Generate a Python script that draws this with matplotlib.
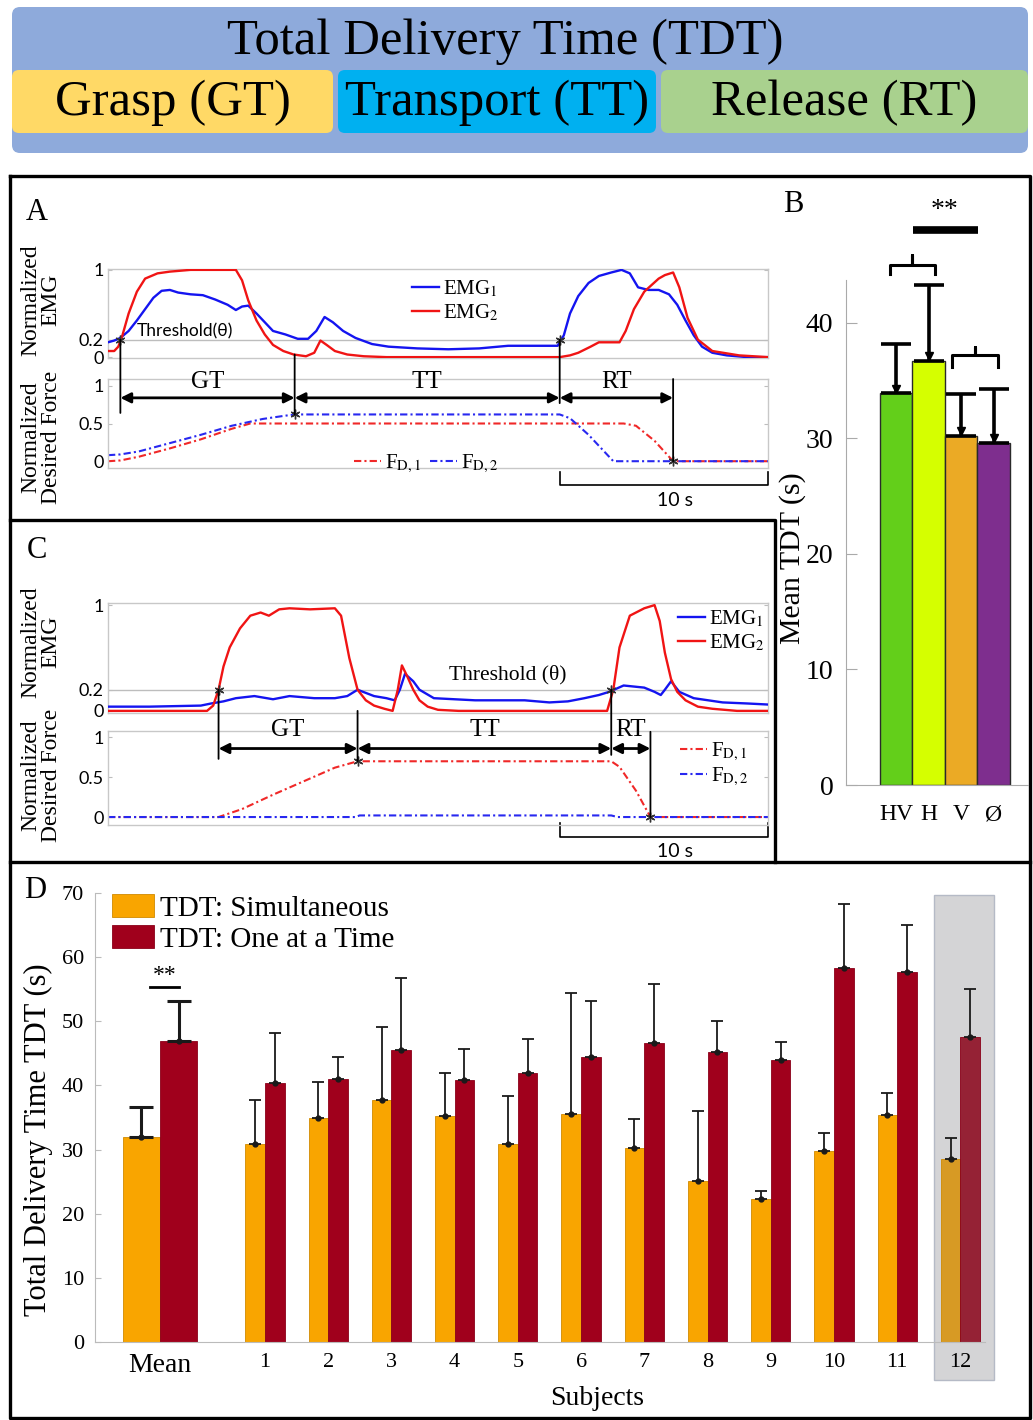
import numpy as np
import matplotlib.pyplot as plt
from matplotlib.patches import FancyBboxPatch, Rectangle, ConnectionPatch

plt.rcParams['font.family'] = ['Liberation Serif', 'DejaVu Serif']
plt.rcParams['mathtext.fontset'] = 'stix'
SANS = 'Lato'

W, H = 1033, 1420

# ---------------- data ----------------
# Panel A: simultaneous control (time in s)
a_emg1_t = [0, 0.3, 0.6, 1.0, 1.4, 1.8, 2.2, 2.6, 3.0, 3.4, 4.0, 4.6, 5.2, 5.8, 6.2, 6.5, 6.8, 7.2, 7.6,
            8.0, 8.6, 9.2, 9.7, 10.1, 10.5, 10.9, 11.4, 12.0, 12.8, 13.6, 15.0, 16.5, 18.0, 19.4, 21.0,
            21.8, 22.1, 22.4, 22.8, 23.3, 23.8, 24.4, 24.9, 25.3, 25.7, 26.2, 26.7, 27.2, 27.6, 28.0,
            28.4, 28.8, 29.3, 30.0, 31.0, 32.0]
a_emg1_v = [0.17, 0.19, 0.22, 0.30, 0.42, 0.55, 0.68, 0.76, 0.77, 0.74, 0.72, 0.71, 0.66, 0.60, 0.54,
            0.58, 0.59, 0.50, 0.40, 0.30, 0.26, 0.21, 0.21, 0.30, 0.46, 0.40, 0.30, 0.22, 0.15, 0.12,
            0.10, 0.09, 0.10, 0.13, 0.13, 0.13, 0.25, 0.50, 0.70, 0.85, 0.93, 0.97, 1.00, 0.96, 0.80,
            0.77, 0.77, 0.72, 0.60, 0.42, 0.25, 0.12, 0.05, 0.02, 0.0, 0.0]
a_emg2_t = [0, 0.3, 0.5, 0.7, 1.0, 1.4, 1.8, 2.4, 3.0, 4.0, 5.0, 6.2, 6.5, 6.8, 7.2, 7.6, 8.0, 8.5, 9.0,
            9.6, 10.0, 10.3, 10.6, 11.0, 11.6, 12.4, 13.5, 16.0, 19.0, 21.9, 22.4, 22.8, 23.4, 23.8,
            24.8, 25.1, 25.5, 26.0, 26.7, 27.0, 27.4, 27.7, 28.1, 28.6, 29.3, 30.6, 32.0]
a_emg2_v = [0.07, 0.07, 0.12, 0.25, 0.50, 0.75, 0.90, 0.96, 0.98, 1.00, 1.00, 1.00, 0.88, 0.65, 0.42,
            0.26, 0.14, 0.07, 0.03, 0.01, 0.05, 0.19, 0.14, 0.07, 0.03, 0.01, 0.0, 0.0, 0.0, 0.0, 0.02,
            0.05, 0.12, 0.17, 0.17, 0.30, 0.55, 0.75, 0.90, 0.94, 0.97, 0.80, 0.45, 0.20, 0.07, 0.02, 0.0]
a_fd1_t = [0, 0.6, 1.5, 3.0, 4.5, 6.0, 6.9, 25.0, 25.6, 26.5, 27.4, 32.0]
a_fd1_v = [0, 0.01, 0.06, 0.17, 0.29, 0.43, 0.50, 0.50, 0.47, 0.27, 0.0, 0.0]
a_fd2_t = [0, 0.6, 1.5, 3.0, 4.5, 6.0, 7.5, 8.5, 9.05, 21.9, 22.4, 23.3, 24.5, 32.0]
a_fd2_v = [0.08, 0.09, 0.13, 0.24, 0.35, 0.47, 0.56, 0.60, 0.62, 0.62, 0.57, 0.35, 0.0, 0.0]
a_events = [0.6, 9.05, 21.9, 27.4]

# Panel C: one at a time
c_emg1_t = [0, 2.0, 4.5, 5.0, 5.6, 6.2, 7.1, 8.0, 8.8, 10.0, 11.0, 11.6, 12.1, 12.5, 12.9, 13.5, 13.9,
            14.15, 14.4, 14.8, 15.1, 15.8, 17.8, 20.2, 21.4, 22.3, 23.1, 23.8, 24.3, 25.0, 26.0, 26.5,
            26.8, 27.0, 27.3, 27.7, 28.4, 29.8, 31.0, 32.0]
c_emg1_v = [0.04, 0.04, 0.05, 0.07, 0.09, 0.12, 0.14, 0.11, 0.14, 0.12, 0.12, 0.14, 0.20, 0.17, 0.14,
            0.12, 0.10, 0.20, 0.35, 0.28, 0.20, 0.12, 0.10, 0.10, 0.08, 0.09, 0.12, 0.15, 0.18, 0.24,
            0.22, 0.18, 0.15, 0.20, 0.28, 0.18, 0.12, 0.08, 0.07, 0.06]
c_emg2_t = [0, 4.8, 5.1, 5.36, 5.6, 5.9, 6.4, 6.9, 7.4, 7.8, 8.3, 8.8, 9.8, 11.0, 11.3, 11.5, 11.7,
            12.1, 12.5, 12.9, 13.4, 13.8, 14.05, 14.25, 14.5, 14.8, 15.1, 15.5, 16.0, 17.0, 24.2, 24.5,
            24.8, 25.3, 26.0, 26.5, 26.75, 27.0, 27.3, 27.6, 28.0, 28.6, 29.3, 30.5, 32.0]
c_emg2_v = [0.0, 0.0, 0.05, 0.20, 0.42, 0.60, 0.78, 0.90, 0.93, 0.90, 0.96, 0.97, 0.96, 0.97, 0.90,
            0.70, 0.50, 0.20, 0.10, 0.05, 0.02, 0.0, 0.20, 0.43, 0.33, 0.20, 0.10, 0.04, 0.01, 0.0,
            0.0, 0.20, 0.60, 0.90, 0.97, 1.00, 0.85, 0.55, 0.30, 0.18, 0.10, 0.04, 0.02, 0.0, 0.0]
c_fd1_t = [0, 5.36, 6.5, 8.0, 9.5, 11.0, 12.1, 24.4, 24.8, 25.6, 26.3, 32.0]
c_fd1_v = [0, 0.0, 0.10, 0.28, 0.45, 0.62, 0.70, 0.70, 0.63, 0.33, 0.0, 0.0]
c_fd2_t = [0, 12.0, 12.2, 24.4, 24.7, 32.0]
c_fd2_v = [0, 0.0, 0.02, 0.02, 0.0, 0.0]
c_events = [5.36, 12.1, 24.4, 26.3]

phase_names = ['GT', 'TT', 'RT']

# Panel B: mean TDT per feedback condition
b_labels = ['HV', 'H', 'V', 'Ø']
b_mean = [33.9, 36.7, 30.2, 29.6]
b_upper = [38.2, 43.3, 33.8, 34.3]
b_colors = ['#63CF1A', '#D5FF00', '#EBAA25', '#7E2E8E']

# Panel D: TDT per subject
d_labels = ['Mean', '1', '2', '3', '4', '5', '6', '7', '8', '9', '10', '11', '12']
d_sim = [31.9, 30.9, 34.9, 37.8, 35.2, 30.9, 35.5, 30.3, 25.1, 22.3, 29.7, 35.4, 28.5]
d_sim_up = [36.7, 37.7, 40.5, 49.1, 41.9, 38.3, 54.4, 34.7, 36.0, 23.6, 32.6, 38.8, 31.8]
d_one = [47.0, 40.4, 41.0, 45.6, 40.9, 42.0, 44.5, 46.6, 45.2, 43.9, 58.3, 57.7, 47.6]
d_one_up = [53.1, 48.1, 44.4, 56.8, 45.7, 47.2, 53.1, 55.8, 50.1, 46.8, 68.3, 65.0, 55.1]


def px_rect(l, t, r, b):
    return [l / W, 1 - b / H, (r - l) / W, (b - t) / H]


fig = plt.figure(figsize=(W / 100, H / 100), dpi=100)

# canvas in pixel coordinates for banner, borders and panel letters
cv = fig.add_axes([0, 0, 1, 1])
cv.set_xlim(0, W)
cv.set_ylim(H, 0)
cv.axis('off')

cv.add_patch(FancyBboxPatch((12, 7), 1016, 146, boxstyle='round,pad=0,rounding_size=8',
                            fc='#8EAADB', ec='none'))
for (x0, w, c, name) in [(12, 321, '#FFD966', 'Grasp (GT)'), (338, 318, '#00B0F0', 'Transport (TT)'),
                         (661, 367, '#A9D18E', 'Release (RT)')]:
    cv.add_patch(FancyBboxPatch((x0, 70), w, 63, boxstyle='round,pad=0,rounding_size=7',
                                fc=c, ec='none'))
    cv.text(x0 + w / 2, 103, name, ha='center', va='center', fontsize=36.5)
cv.text(505, 42, 'Total Delivery Time (TDT)', ha='center', va='center', fontsize=36.5)

# panel borders
cv.plot([10, 1030, 1030, 10, 10], [176, 176, 1418, 1418, 176], color='k', lw=2.4)
cv.plot([10, 775, 775], [520, 520, 862], color='k', lw=2.4)
cv.plot([10, 1030], [862, 862], color='k', lw=2.4)
for (x, y, s) in [(37, 213, 'A'), (793, 205, 'B'), (37, 550, 'C'), (35, 890, 'D')]:
    cv.text(x, y, s, ha='center', va='center', fontsize=22)

for (y, s) in [(300, 'Normalized\nEMG'), (437, 'Normalized\nDesired Force'),
               (642, 'Normalized\nEMG'), (775, 'Normalized\nDesired Force')]:
    cv.text(41, y, s, rotation=90, ha='center', va='center', fontsize=17, linespacing=0.95)


def style_trace(ax, ylim, ticks, labels):
    ax.set_xlim(0, 32)
    ax.set_ylim(*ylim)
    ax.set_facecolor('none')
    ax.set_xticks([])
    ax.set_yticks(ticks)
    ax.set_yticklabels(labels)
    for s in ax.spines.values():
        s.set_color('#C8C8C8')
        s.set_linewidth(1.0)
    ax.tick_params(axis='y', direction='in', length=3, color='#BDBDBD', right=True,
                   labelsize=13, pad=3, labelfontfamily=SANS)


def trace_panel(emg_rect, f_rect, emg_lim, f_lim, emg1, emg2, fd1, fd2, events, links, stars,
                arrow_y, lab_y, bar_y, thr, leg_emg, leg_f):
    ae = fig.add_axes(px_rect(*emg_rect))
    af = fig.add_axes(px_rect(*f_rect))
    style_trace(ae, emg_lim, [0, 0.2, 1], ['0', '0.2', '1'])
    style_trace(af, f_lim, [0, 0.5, 1], ['0', '0.5', '1'])
    ae.axhline(0.2, color='#BDBDBD', lw=1.0, zorder=1)
    ae.plot(*emg1, color='#1414F0', lw=1.7, label='EMG$_1$', zorder=3)
    ae.plot(*emg2, color='#F01414', lw=1.7, label='EMG$_2$', zorder=3)
    ls = (0, (3.5, 1.5, 1, 1.5))
    af.plot(*fd1, color='#F02828', lw=1.5, ls=ls, label=r'F$_{\mathrm{D,1}}$')
    af.plot(*fd2, color='#2828F0', lw=1.5, ls=ls, label=r'F$_{\mathrm{D,2}}$')

    # event lines crossing both axes
    for (t, where, y0, y1) in links:
        src = ae if where == 'e' else af
        fig.add_artist(ConnectionPatch(xyA=(t, y0), coordsA=src.transData, xyB=(t, y1),
                                       coordsB=af.transData, color='k', lw=1.3, zorder=4))
    for (t, where, y) in stars:
        ax = ae if where == 'e' else af
        ax.plot(t, y, marker=(6, 2, 0), ms=7, mew=1.0, color='#333333', clip_on=False, zorder=5)
    for i, name in enumerate(phase_names):
        af.annotate('', xy=(events[i + 1], arrow_y), xytext=(events[i], arrow_y),
                    arrowprops=dict(arrowstyle='<|-|>,head_length=0.6,head_width=0.3', color='k',
                                    lw=2.0, shrinkA=0, shrinkB=0), zorder=4)
        af.text((events[i] + events[i + 1]) / 2, lab_y, name, ha='center', va='center',
                fontsize=18, clip_on=False)

    # 10 s scale bar
    by, btop, ty = bar_y
    af.plot([21.9, 21.9, 32, 32], [btop, by, by, btop], color='k', lw=1.2, clip_on=False)
    af.text(27.5, ty, '10 s', ha='center', va='center', fontsize=14, family=SANS)

    tx, tyy, tkw = thr
    ae.text(tx, tyy, **tkw)

    for ax, (anchor, ncol) in [(ae, leg_emg), (af, leg_f)]:
        ax.legend(loc='upper left', bbox_to_anchor=(anchor[0] / W, 1 - anchor[1] / H),
                  bbox_transform=fig.transFigure, ncol=ncol, frameon=False, fontsize=15,
                  handlelength=1.3, handletextpad=0.2, labelspacing=0.15, columnspacing=0.4,
                  borderaxespad=0, borderpad=0)
    return ae, af


# ---------------- panel A ----------------
trace_panel((108, 269, 768, 358), (108, 379, 768, 468), (-0.01, 1.01), (-0.09, 1.09),
            (a_emg1_t, a_emg1_v), (a_emg2_t, a_emg2_v), (a_fd1_t, a_fd1_v), (a_fd2_t, a_fd2_v),
            a_events,
            [(a_events[0], 'e', 0.2, 0.64), (a_events[1], 'e', 0.03, 0.62),
             (a_events[2], 'e', 0.2, 0.77), (a_events[3], 'f', 1.09, 0.0)],
            [(a_events[0], 'e', 0.2), (a_events[1], 'f', 0.62), (a_events[2], 'e', 0.2),
             (a_events[3], 'f', 0.0)],
            0.84, 1.05, (-0.32, -0.14, -0.52),
            (1.4, 0.29, dict(s='Threshold(θ)', ha='left', va='center', fontsize=12.5, family=SANS)),
            ((412, 279), 1), ((354, 453), 2))

# ---------------- panel C ----------------
trace_panel((108, 603, 768, 713), (108, 731, 768, 825), (-0.02, 1.02), (-0.1, 1.08),
            (c_emg1_t, c_emg1_v), (c_emg2_t, c_emg2_v), (c_fd1_t, c_fd1_v), (c_fd2_t, c_fd2_v),
            c_events,
            [(c_events[0], 'e', 0.2, 0.73), (c_events[1], 'e', 0.0, 0.7),
             (c_events[2], 'e', 0.2, 0.78), (c_events[3], 'f', 1.07, 0.0)],
            [(c_events[0], 'e', 0.2), (c_events[1], 'f', 0.7), (c_events[2], 'e', 0.2),
             (c_events[3], 'f', 0.0)],
            0.86, 1.09, (-0.245, -0.08, -0.43),
            (19.4, 0.34, dict(s='Threshold (θ)', ha='center', va='center', fontsize=15.5)),
            ((678, 609), 1), ((680, 741), 1))

# ---------------- panel B ----------------
ab = fig.add_axes(px_rect(846, 280, 1028, 785))
xb = np.arange(len(b_labels))
ab.bar(xb, b_mean, width=1.0, color=b_colors, edgecolor='#2A2A2A', lw=1.0, zorder=2)
ab.errorbar(xb, b_mean, yerr=[np.zeros(len(xb)), np.array(b_upper) - np.array(b_mean)],
            fmt='none', ecolor='k', elinewidth=2.6, capsize=11, capthick=2.6, zorder=3)
ab.plot(xb, np.array(b_mean) + 0.4, 'v', color='k', ms=6, zorder=4)
ab.set_xlim(-1.54, 4.06)
ab.set_ylim(0, 43.7)
ab.set_facecolor('none')
ab.set_xticks(xb)
ab.set_xticklabels(b_labels)
ab.set_yticks([0, 10, 20, 30, 40])
ab.tick_params(axis='y', direction='in', length=8, color='#AAAAAA', labelsize=20, pad=9)
ab.tick_params(axis='x', length=0, labelsize=17, pad=14)
for s in ['top', 'right']:
    ab.spines[s].set_visible(False)
for s in ['left', 'bottom']:
    ab.spines[s].set_color('#AAAAAA')
ab.set_ylabel('Mean TDT (s)', fontsize=21.5)
ab.yaxis.set_label_coords(-0.22, 0.45)
# significance brackets
for (x0, x1, xc, yb, yt, yn) in [(-0.2, 1.2, 0.5, 44.2, 45.0, 45.9), (1.72, 3.14, 2.43, 36.2, 37.2, 37.9)]:
    ab.plot([x0, x0, xc, xc, xc, x1, x1], [yb, yt, yt, yn, yt, yt, yb], color='k', lw=2.2,
            solid_joinstyle='round', clip_on=False, zorder=4)
ab.plot([0.52, 2.52], [48.0, 48.0], color='k', lw=5.5, solid_capstyle='butt', clip_on=False)
ab.text(1.5, 49.7, '**', ha='center', va='center', fontsize=20, clip_on=False)

# ---------------- panel D ----------------
ad = fig.add_axes(px_rect(95, 893, 985, 1342))
d_pos = np.array([-0.66] + list(range(1, 13)), dtype=float)
d_w = np.array([0.59] + [0.31] * 12)
sim_cols = ['#F9A500'] * 12 + ['#D79A24']
one_cols = ['#A0001C'] * 12 + ['#952235']
ad.add_patch(Rectangle((11.59, -5.9), 0.95, 75.6, fc='#D4D4D6', ec='#B5BAC6', lw=1.0,
                       clip_on=False, zorder=0))
ad.bar(d_pos - d_w, d_sim, width=d_w, align='edge', color=sim_cols, edgecolor='#D08A00', lw=0.6,
       zorder=2, label='TDT: Simultaneous')
ad.bar(d_pos, d_one, width=d_w, align='edge', color=one_cols, edgecolor='#8A0018', lw=0.6,
       zorder=2, label='TDT: One at a Time')
xs = d_pos - d_w / 2
xo = d_pos + d_w / 2
sim = np.array(d_sim)
one = np.array(d_one)
for sl, lw, cs in [(slice(0, 1), 2.2, 8.5), (slice(1, None), 1.3, 4)]:
    ad.errorbar(xs[sl], sim[sl], yerr=[np.zeros_like(sim[sl]), np.array(d_sim_up)[sl] - sim[sl]],
                fmt='none', ecolor='#1A1A1A', elinewidth=lw, capsize=cs, capthick=lw, zorder=3)
    ad.errorbar(xo[sl], one[sl], yerr=[np.zeros_like(one[sl]), np.array(d_one_up)[sl] - one[sl]],
                fmt='none', ecolor='#1A1A1A', elinewidth=lw, capsize=cs, capthick=lw, zorder=3)
ad.plot(xs, sim, 'o', color='#1A1A1A', ms=3.5, zorder=4)
ad.plot(xo, one, 'o', color='#1A1A1A', ms=3.5, zorder=4)
ad.plot([-0.82, -0.36], [55.4, 55.4], color='k', lw=2.0)
ad.text(-0.59, 57.2, '**', ha='center', va='center', fontsize=17)

ad.set_xlim(-1.69, 12.39)
ad.set_ylim(0, 70)
ad.set_facecolor('none')
ad.set_xticks(d_pos)
ad.set_xticklabels(d_labels)
for i, lab in enumerate(ad.get_xticklabels()):
    lab.set_fontsize(20 if i == 0 else 16)
ad.set_yticks(np.arange(0, 71, 10))
ad.tick_params(axis='y', direction='in', length=4, color='#BBBBBB', labelsize=16, pad=8)
ad.tick_params(axis='x', length=0, pad=8)
for s in ['top', 'right']:
    ad.spines[s].set_visible(False)
for s in ['left', 'bottom']:
    ad.spines[s].set_color('#BBBBBB')
ad.set_ylabel('Total Delivery Time TDT (s)', fontsize=22)
ad.yaxis.set_label_coords(-0.047, 0.45)
ad.set_xlabel('Subjects', fontsize=20)
ad.xaxis.set_label_coords(0.564, -0.098)
ad.legend(loc='upper left', bbox_to_anchor=(112 / W, 1 - 894 / H), bbox_transform=fig.transFigure,
          frameon=False, fontsize=21, handlelength=1.45, handleheight=0.85, handletextpad=0.2,
          labelspacing=0.12, borderaxespad=0, borderpad=0)

fig.savefig('out.png', dpi=100)
